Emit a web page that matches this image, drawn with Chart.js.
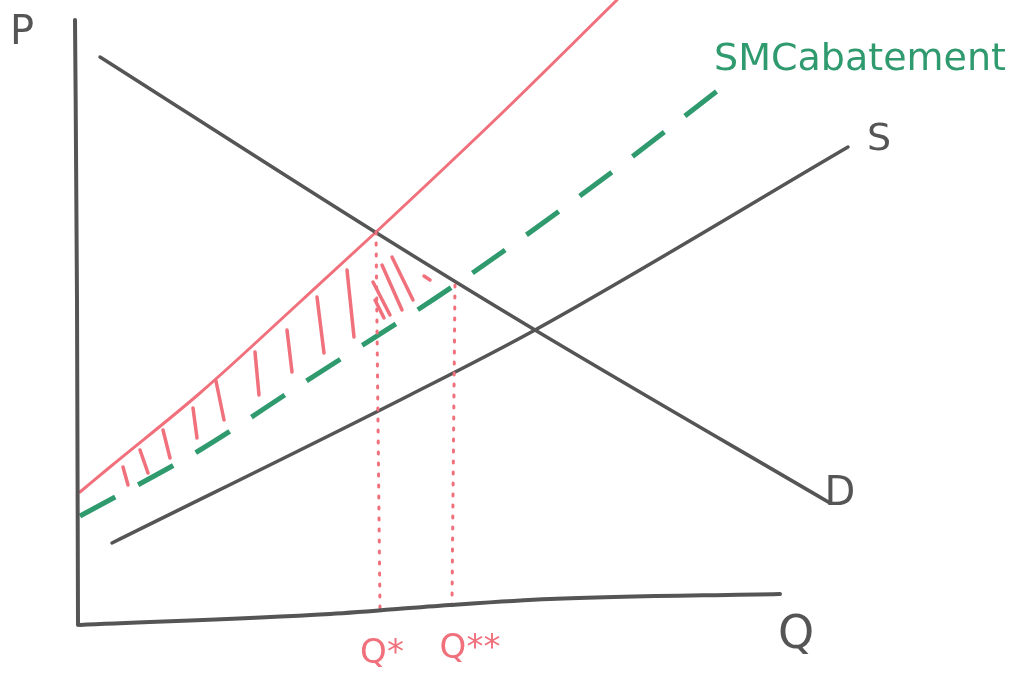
<!DOCTYPE html>
<html>
<head>
<meta charset="utf-8">
<script src="https://cdn.jsdelivr.net/npm/chart.js@4.4.1/dist/chart.umd.min.js"></script>
<style>
  html, body { margin: 0; padding: 0; background: #fff; }
  #wrap { width: 1025px; height: 682px; position: relative; }
</style>
</head>
<body>
<div id="wrap"><canvas id="chart"></canvas></div>
<script>
// Curves (q = quantity, p = price, arbitrary units)
const redQ = [80, 110, 200, 300, 375, 500, 617];
const redP = [190, 215, 289, 380, 449, 567, 682];

const greenQ = [80, 200, 300, 455, 600, 725];
const greenP = [166, 232, 297, 397, 501, 597];

const demandQ = [100, 375, 535, 830];
const demandP = [625, 450, 352, 179];

const supplyQ = [112, 410, 535, 848];
const supplyP = [139, 287, 352, 535];

// hand drawn axes
const yAxisQ = [75, 77, 78];
const yAxisP = [662, 382, 57];
const xAxisQ = [80, 330, 450, 550, 780];
const xAxisP = [57, 68, 77, 83, 88];

// Q* and Q** drop lines
const qStarQ = [376, 380];
const qStarP = [450, 70];
const qStar2Q = [455, 452];
const qStar2P = [397, 77];

// hatching strokes between the red curve and the green line
const hatchTopQ = [123, 140, 163, 193, 216, 255, 287, 317, 347, 373, 375, 382, 392, 424];
const hatchTopP = [215, 232, 252, 274, 301, 330, 352, 385, 412, 400, 382, 417, 425, 406];
const hatchBotQ = [128, 148, 170, 197, 224, 259, 292, 324, 354, 390, 384, 402, 413, 430];
const hatchBotP = [197, 209, 224, 244, 262, 287, 310, 329, 345, 367, 364, 372, 382, 402];

const GREY = '#555555';
const RED = '#f0707c';
const GREEN = '#2f9a6e';

function pts(qs, ps) {
  return qs.map((q, i) => ({ x: q, y: ps[i] }));
}

function hatchPts() {
  const out = [];
  hatchTopQ.forEach((q, i) => {
    out.push({ x: q, y: hatchTopP[i] });
    out.push({ x: hatchBotQ[i], y: hatchBotP[i] });
    out.push({ x: hatchBotQ[i], y: null });
  });
  return out;
}

function line(data, color, width, extra) {
  return Object.assign({
    data: data,
    borderColor: color,
    borderWidth: width,
    showLine: true,
    pointRadius: 0,
    fill: false,
    tension: 0.4,
    cubicInterpolationMode: 'monotone',
    borderCapStyle: 'round',
    borderJoinStyle: 'round',
    spanGaps: false
  }, extra || {});
}

// text labels, drawn in data space
const labels = [
  { text: 'P', q: 22, p: 648, color: GREY, size: 40 },
  { text: 'S', q: 879, p: 542, color: GREY, size: 38 },
  { text: 'D', q: 840, p: 187, color: GREY, size: 40 },
  { text: 'Q', q: 796, p: 46, color: GREY, size: 46 },
  { text: 'SMCabatement', q: 860, p: 622, color: GREEN, size: 38 },
  { text: 'Q*', q: 382, p: 28, color: RED, size: 34 },
  { text: 'Q**', q: 470, p: 33, color: RED, size: 34 }
];

const labelPlugin = {
  id: 'labels',
  afterDatasetsDraw(chart) {
    const ctx = chart.ctx;
    const xs = chart.scales.x, ys = chart.scales.y;
    ctx.save();
    labels.forEach(l => {
      ctx.font = l.size + 'px "DejaVu Sans"';
      ctx.fillStyle = l.color;
      ctx.textAlign = 'center';
      ctx.textBaseline = 'middle';
      ctx.fillText(l.text, xs.getPixelForValue(l.q), ys.getPixelForValue(l.p));
    });
    ctx.restore();
  }
};

new Chart(document.getElementById('chart'), {
  type: 'scatter',
  data: {
    datasets: [
      line(pts(yAxisQ, yAxisP), GREY, 4, { tension: 0 }),
      line(pts(xAxisQ, xAxisP), GREY, 4),
      line(pts(qStarQ, qStarP), RED, 3, { borderDash: [2, 9], tension: 0 }),
      line(pts(qStar2Q, qStar2P), RED, 3, { borderDash: [2, 9], tension: 0 }),
      line(hatchPts(), RED, 3.5, { tension: 0 }),
      line(pts(demandQ, demandP), GREY, 3.5),
      line(pts(supplyQ, supplyP), GREY, 3.5),
      line(pts(redQ, redP), RED, 3),
      line(pts(greenQ, greenP), GREEN, 5, { borderDash: [40, 26], borderCapStyle: 'butt' })
    ]
  },
  options: {
    responsive: true,
    maintainAspectRatio: false,
    animation: false,
    layout: { padding: 0 },
    plugins: { legend: { display: false }, tooltip: { enabled: false } },
    scales: {
      x: { type: 'linear', min: 0, max: 1025, display: false },
      y: { type: 'linear', min: 0, max: 682, display: false }
    }
  },
  plugins: [labelPlugin]
});
</script>
</body>
</html>
